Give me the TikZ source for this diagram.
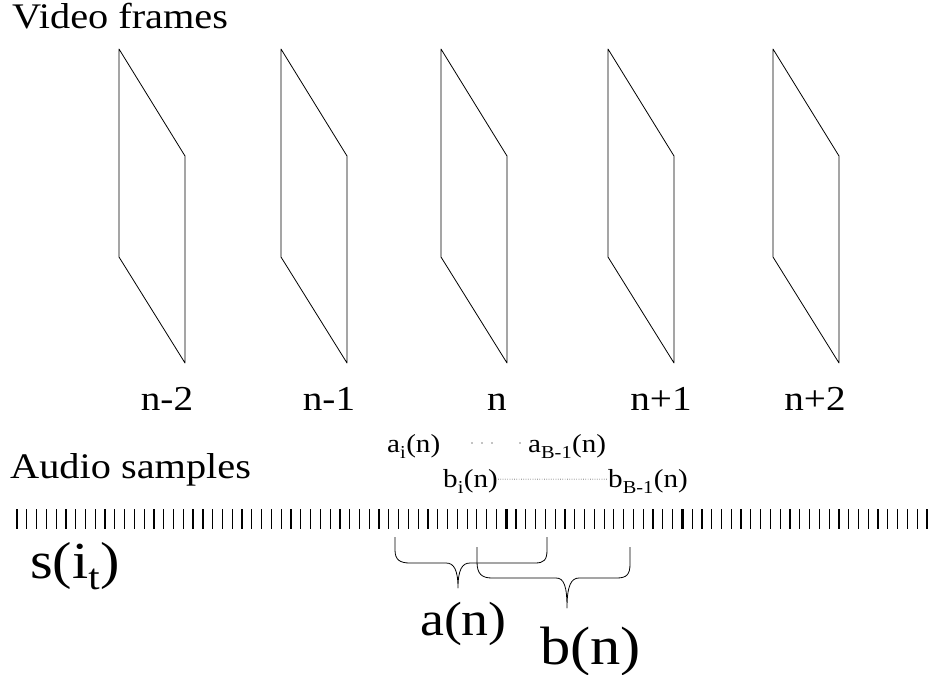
\documentclass[tikz,border=0pt]{standalone}
\usepackage{fontspec}
\setmainfont{Liberation Serif}[FakeStretch=1.12]
\usepackage{tikz}
\usetikzlibrary{positioning}
\newcommand{\dn}[1]{\textsubscript{\raisebox{-0.3ex}{#1}}}
\tikzstyle{vframe} = [line width=0.8pt, line join=round]
\tikzstyle{title}  = [anchor=base west, inner sep=0pt, font=\fontsize{36}{40}\selectfont]
\tikzstyle{idx}    = [anchor=base, inner sep=0pt, font=\fontsize{35}{40}\selectfont]
\tikzstyle{coef}   = [anchor=base west, inner sep=0pt, font=\fontsize{26}{30}\selectfont]
\tikzstyle{big}    = [anchor=base west, inner sep=0pt, font=\fontsize{48}{52}\selectfont]
\tikzstyle{tick}   = [line width=1.2pt]
\tikzstyle{brace}  = [line width=0.8pt, line join=round]

\begin{document}
\begin{tikzpicture}[x=1pt, y=-1pt]
    \useasboundingbox (0,0) rectangle (935,675);

    \node[title] (vid) at (12,28)  {Video frames};
    \node[title] (aud) at (10,478) {Audio samples};

    % frames and their indices
    \foreach \xl/\xc/\lab/\k in {119/167/n-2/1, 281/329/n-1/2, 441/497/n/3, 608/661/n+1/4, 773/815/n+2/5} {
        \draw[vframe] (\xl,49) -- (\xl+66,156) -- (\xl+66,363) -- (\xl,257) -- cycle;
        \node[idx] (l\k) at (\xc,410) {\lab};
    }

    % sample ticks
    \foreach \i in {0,...,93}
        \draw[tick] ({17+9.785*\i},509) -- ({17+9.785*\i},529);
    \foreach \i in {18,33,50,68,84}
        \draw[line width=2.6pt] ({17+9.785*\i},509) -- ({17+9.785*\i},529);

    \node[big, font=\fontsize{52}{56}\selectfont] (s) at (30,578) {s(i\dn{t})};

    % coefficients
    \node[coef] (ai) at (387,452) {a\dn{i}(n)};
    \node[coef] (aB) at (528,452) {a\dn{B-1}(n)};
    \node[coef] (bi) at (443,487) {b\dn{i}(n)};
    \node[coef] (bB) at (608,487) {b\dn{B-1}(n)};
    \foreach \x in {472,482,492,520}
        \fill (\x,443) circle (0.7pt);
    \draw[line width=0.7pt, dash pattern=on 0.7pt off 1.6pt] ([yshift=2pt]bi.east) -- ([yshift=2pt]bB.west);

    % braces
    \draw[brace] (395,537) -- (395,550) .. controls (395,560) and (400,563) .. (410,563)
        -- (446,563) .. controls (454,563) and (458,570) .. (458,588)
        .. controls (458,570) and (462,563) .. (470,563)
        -- (535,563) .. controls (544,563) and (547,560) .. (547,550) -- (547,537);
    \draw[brace] (477,547) -- (477,562) .. controls (477,574) and (482,578) .. (492,578)
        -- (556,578) .. controls (564,578) and (567,586) .. (567,608)
        .. controls (567,586) and (571,578) .. (579,578)
        -- (617,578) .. controls (627,578) and (630,574) .. (630,564) -- (630,547);

    \node[big] (an) at (420,635) {a(n)};
    \node[big, font=\fontsize{54}{58}\selectfont] (bn) at (540,664) {b(n)};
\end{tikzpicture}
\end{document}
